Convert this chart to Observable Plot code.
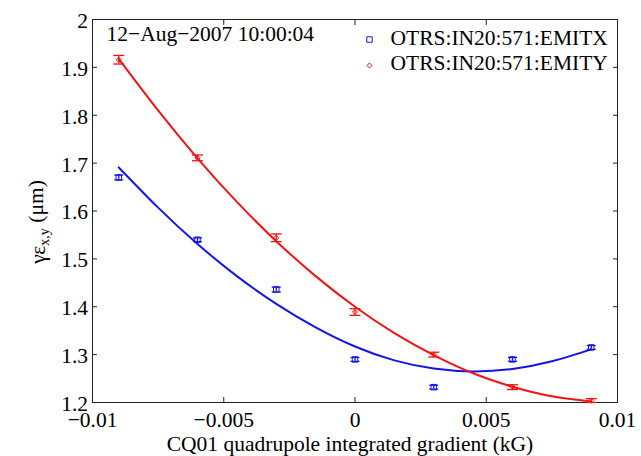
<!DOCTYPE html>
<html><head><meta charset="utf-8">
<script src="https://cdn.jsdelivr.net/npm/d3@7"></script>
<script src="https://cdn.jsdelivr.net/npm/@observablehq/plot@0.6"></script>
<style>html,body{margin:0;padding:0;background:#fff}#chart{width:641px;height:456px}</style>
</head><body><div id="chart"></div>
<script>
// measured data
const quadK = [-0.009, -0.006, -0.003, 0, 0.003, 0.006, 0.009];
const emitX = [1.670, 1.540, 1.436, 1.290, 1.232, 1.290, 1.315];
const emitXErr = [0.005, 0.004, 0.005, 0.004, 0.004, 0.004, 0.004];
const emitY = [1.916, 1.711, 1.544, 1.389, 1.300, 1.232, 1.204];
const emitYErr = [0.009, 0.006, 0.008, 0.007, 0.005, 0.005, 0.004];
// fitted curves
const fitK = [-0.009, -0.0075, -0.006, -0.0045, -0.003, -0.0015, 0, 0.0015, 0.003, 0.0045, 0.006, 0.0075, 0.009];
const fitX = [1.691, 1.607, 1.531, 1.464, 1.406, 1.357, 1.317, 1.288, 1.271, 1.265, 1.270, 1.286, 1.311];
const fitY = [1.918, 1.810, 1.710, 1.619, 1.537, 1.464, 1.400, 1.345, 1.299, 1.261, 1.233, 1.213, 1.202];
// axes
const xTicks = [-0.01, -0.005, 0, 0.005, 0.01];
const yTicks = [1.2, 1.3, 1.4, 1.5, 1.6, 1.7, 1.8, 1.9, 2];
const seriesNames = ["OTRS:IN20:571:EMITX", "OTRS:IN20:571:EMITY"];
const titleText = "12\u2212Aug\u22122007 10:00:04";
const xLabel = "CQ01 quadrupole integrated gradient (kG)";

const FONT = "'Liberation Serif', 'Times New Roman', serif";
const FS = 21.5;
const BLUE = "#1414e6", RED = "#f01414";
const ptsX = quadK.map((k, i) => ({k, v: emitX[i], e: emitXErr[i]}));
const ptsY = quadK.map((k, i) => ({k, v: emitY[i], e: emitYErr[i]}));
const curX = fitK.map((k, i) => ({k, v: fitX[i]}));
const curY = fitK.map((k, i) => ({k, v: fitY[i]}));
const cap = {draw(ctx, size) { const w = Math.sqrt(size / Math.PI); ctx.moveTo(-w, 0); ctx.lineTo(w, 0); }};
const fmt = d3.format("~g");

function errMarks(pts, color, capR) {
  return [
    Plot.ruleX(pts, {x: "k", y1: d => d.v - d.e, y2: d => d.v + d.e, stroke: color, strokeWidth: 1.3}),
    Plot.dot(pts, {x: "k", y: d => d.v - d.e, symbol: cap, r: capR, stroke: color, strokeWidth: 1.3}),
    Plot.dot(pts, {x: "k", y: d => d.v + d.e, symbol: cap, r: capR, stroke: color, strokeWidth: 1.3})
  ];
}

const chart = Plot.plot({
  width: 641, height: 456,
  marginLeft: 92, marginRight: 24, marginTop: 19, marginBottom: 54,
  style: {fontFamily: FONT, fontSize: FS + "px", background: "#fff", color: "#000"},
  x: {domain: [-0.01, 0.01]},
  y: {domain: [1.2, 2]},
  marks: [
    Plot.axisX({anchor: "bottom", ticks: xTicks, tickSize: 0, tickPadding: 9, tickFormat: fmt, label: null, fontFamily: FONT, fontSize: FS, fill: "#000"}),
    Plot.axisY({anchor: "left", ticks: yTicks, tickSize: 0, tickPadding: 4.5, tickFormat: fmt, label: null, fontFamily: FONT, fontSize: FS, fill: "#000", dy: 1.5}),
    Plot.axisX({anchor: "bottom", ticks: xTicks, tickSize: -5, tickFormat: () => "", label: null, stroke: "#222"}),
    Plot.axisX({anchor: "top", ticks: xTicks, tickSize: -5, tickFormat: () => "", label: null, stroke: "#222"}),
    Plot.axisY({anchor: "left", ticks: yTicks, tickSize: -5, tickFormat: () => "", label: null, stroke: "#222"}),
    Plot.axisY({anchor: "right", ticks: yTicks, tickSize: -5, tickFormat: () => "", label: null, stroke: "#222"}),
    Plot.frame({stroke: "#222", strokeWidth: 1}),
    Plot.line(curX, {x: "k", y: "v", curve: "natural", stroke: BLUE, strokeWidth: 2}),
    Plot.line(curY, {x: "k", y: "v", curve: "natural", stroke: RED, strokeWidth: 2}),
    ...errMarks(ptsX, BLUE, 4.5),
    ...errMarks(ptsY, RED, 5.5),
    Plot.dot(ptsX, {x: "k", y: "v", symbol: "square", r: 3.1, stroke: BLUE, strokeWidth: 1, fill: "none"}),
    Plot.dot(ptsY, {x: "k", y: "v", symbol: "diamond2", r: 2.3, stroke: RED, strokeWidth: 1, fill: "none"}),
    // title inside axes
    Plot.text([titleText], {frameAnchor: "top-left", text: d => d, dx: 14, dy: 15, textAnchor: "start", lineAnchor: "middle", fontFamily: FONT, fontSize: FS, fill: "#000"}),
    // legend
    Plot.dot([seriesNames[0]], {frameAnchor: "top-left", dx: 277, dy: 20, symbol: "square", r: 3.1, stroke: BLUE, strokeWidth: 1, fill: "none"}),
    Plot.dot([seriesNames[1]], {frameAnchor: "top-left", dx: 277, dy: 46, symbol: "diamond2", r: 2.3, stroke: RED, strokeWidth: 1, fill: "none"}),
    Plot.text([seriesNames[0]], {frameAnchor: "top-left", text: d => d, dx: 298, dy: 19, textAnchor: "start", lineAnchor: "middle", fontFamily: FONT, fontSize: FS, fill: "#000"}),
    Plot.text([seriesNames[1]], {frameAnchor: "top-left", text: d => d, dx: 298, dy: 44, textAnchor: "start", lineAnchor: "middle", fontFamily: FONT, fontSize: FS, fill: "#000"}),
    // x label
    Plot.text([xLabel], {frameAnchor: "bottom", text: d => d, dx: -5, dy: 48.5, lineAnchor: "bottom", fontFamily: FONT, fontSize: FS, fill: "#000"})
  ]
});
document.getElementById("chart").appendChild(chart);

// y label with subscript
const svg = d3.select(chart.tagName.toLowerCase() === "svg" ? chart : chart.querySelector("svg"));
const yl = svg.append("text")
  .attr("transform", "translate(45,222) rotate(-90)")
  .attr("text-anchor", "middle")
  .attr("font-family", FONT)
  .attr("font-size", FS)
  .attr("fill", "#000");
yl.append("tspan").text("\u03b3\u03b5");
yl.append("tspan").attr("font-size", 14).attr("dy", "0.3em").text("x,y");
yl.append("tspan").attr("dy", "-0.3em").text(" (\u03bcm)");
</script>
</body></html>
